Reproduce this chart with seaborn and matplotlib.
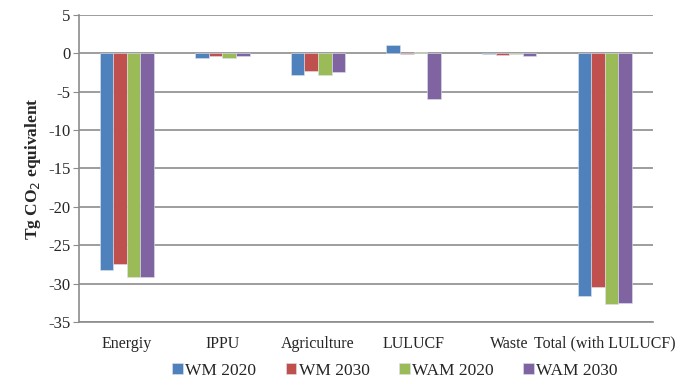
import pandas as pd
import matplotlib.pyplot as plt
import seaborn as sns

categories = ["Energiy", "IPPU", "Agriculture", "LULUCF", "Waste", "Total (with LULUCF)"]
wm_2020 = [-28.2, -0.6, -2.8, 1.1, -0.05, -31.6]
wm_2030 = [-27.5, -0.3, -2.3, -0.1, -0.2, -30.5]
wam_2020 = [-29.1, -0.6, -2.8, 0.2, -0.05, -32.7]
wam_2030 = [-29.2, -0.4, -2.5, -6.0, -0.3, -32.5]
series = {"WM 2020": wm_2020, "WM 2030": wm_2030, "WAM 2020": wam_2020, "WAM 2030": wam_2030}
colors = ["#4F81BD", "#C0504D", "#9BBB59", "#8064A2"]

# long format for seaborn
rows = []
for name, vals in series.items():
    for cat, v in zip(categories, vals):
        rows.append({"category": cat, "scenario": name, "value": v})
df = pd.DataFrame(rows)

sns.set_style("white")
plt.rcParams["font.family"] = ["Liberation Serif", "DejaVu Serif"]
plt.rcParams["axes.unicode_minus"] = False

fig = plt.figure(figsize=(6.87, 3.81), dpi=100)
ax = fig.add_axes([0.115, 0.155, 0.835, 0.806])

ax.yaxis.grid(True, color="#8c8c8c", linewidth=1.2)
ax.set_axisbelow(True)

sns.barplot(data=df, x="category", y="value", hue="scenario", palette=colors,
            saturation=1, width=0.57, gap=0, edgecolor="#dde3ee", linewidth=0.4, ax=ax)

ax.set_ylim(-35, 5)
ax.set_yticks(range(-35, 6, 5))
ax.set_xlim(-0.5, len(categories) - 0.5)
ax.set_xlabel("")
ax.set_ylabel("Tg CO$_2$ equivalent", fontsize=12.5, fontweight="bold", labelpad=4)
ax.tick_params(axis="y", labelsize=12, length=4, color="#8c8c8c", direction="out", left=True, pad=2)
ax.tick_params(axis="x", labelsize=11.5, length=0, pad=10)

for side in ["top", "right"]:
    ax.spines[side].set_visible(False)
for side in ["left", "bottom"]:
    ax.spines[side].set_color("#8c8c8c")
    ax.spines[side].set_linewidth(1.2)

handles, labels = ax.get_legend_handles_labels()
ax.legend(handles, labels, loc="upper center", bbox_to_anchor=(0.575, 0.048),
          bbox_transform=fig.transFigure, ncol=4,
          frameon=False, fontsize=12.5, handlelength=0.6, handleheight=0.6,
          handletextpad=0.15, columnspacing=1.7, borderaxespad=0, borderpad=0)

plt.savefig("out.png", dpi=100)
